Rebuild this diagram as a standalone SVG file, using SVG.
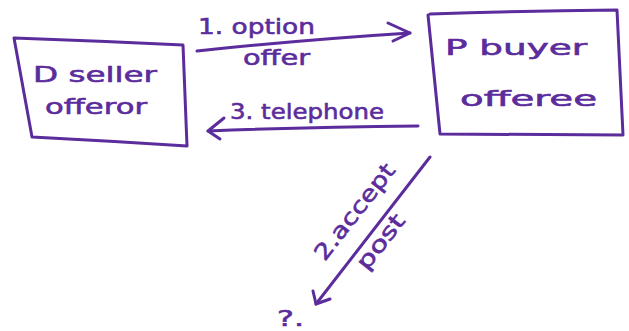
<svg xmlns="http://www.w3.org/2000/svg" width="629" height="331" viewBox="0 0 629 331">
<style>
.ink{fill:none;stroke:#5b2c9c;stroke-width:3;stroke-linecap:round;stroke-linejoin:round}
.t{fill:#5b2c9c;stroke:#5b2c9c;stroke-width:0.6;font-family:"DejaVu Sans",sans-serif;font-size:22px}
</style>
<rect width="629" height="331" fill="#ffffff"/>
<g id="node-seller">
<path class="ink" d="M14,38 Q100,41 183,45 L187,146 Q110,141 32,137 Z"/>
<text class="t" x="33" y="82" textLength="124" lengthAdjust="spacingAndGlyphs">D seller</text>
<text class="t" x="45" y="114" textLength="102" lengthAdjust="spacingAndGlyphs">offeror</text>
</g>
<g id="node-buyer">
<path class="ink" d="M430,14 Q520,11 617,10 L623,135 L440,134 L428,15"/>
<text class="t" x="445" y="55" font-size="28" textLength="142" lengthAdjust="spacingAndGlyphs">P buyer</text>
<text class="t" x="460" y="106" font-size="26" textLength="137" lengthAdjust="spacingAndGlyphs">offeree</text>
</g>
<g id="node-unknown">
<text class="t" x="277" y="326" textLength="27" lengthAdjust="spacingAndGlyphs">?.</text>
</g>
<g id="connectors">
<path class="ink" d="M197,51 Q300,40 410,33"/>
<path class="ink" d="M388,23 L410,33 L393,41"/>
<path class="ink" d="M418,126 Q310,127 208,131"/>
<path class="ink" d="M224,118 L208,131 L220,139"/>
<path class="ink" d="M430,157 L316,304"/>
<path class="ink" d="M313,291 L316,304 L330,299"/>
<text class="t" x="198" y="34" textLength="117" lengthAdjust="spacingAndGlyphs">1. option</text>
<text class="t" x="243" y="65" textLength="67" lengthAdjust="spacingAndGlyphs">offer</text>
<text class="t" x="230" y="119" textLength="154" lengthAdjust="spacingAndGlyphs">3. telephone</text>
<text class="t" transform="translate(355,212) rotate(-52)" x="0" y="7" text-anchor="middle" textLength="116" lengthAdjust="spacingAndGlyphs">2.accept</text>
<text class="t" transform="translate(381,242) rotate(-52)" x="0" y="7" text-anchor="middle" textLength="64" lengthAdjust="spacingAndGlyphs">post</text>
</g>
</svg>
